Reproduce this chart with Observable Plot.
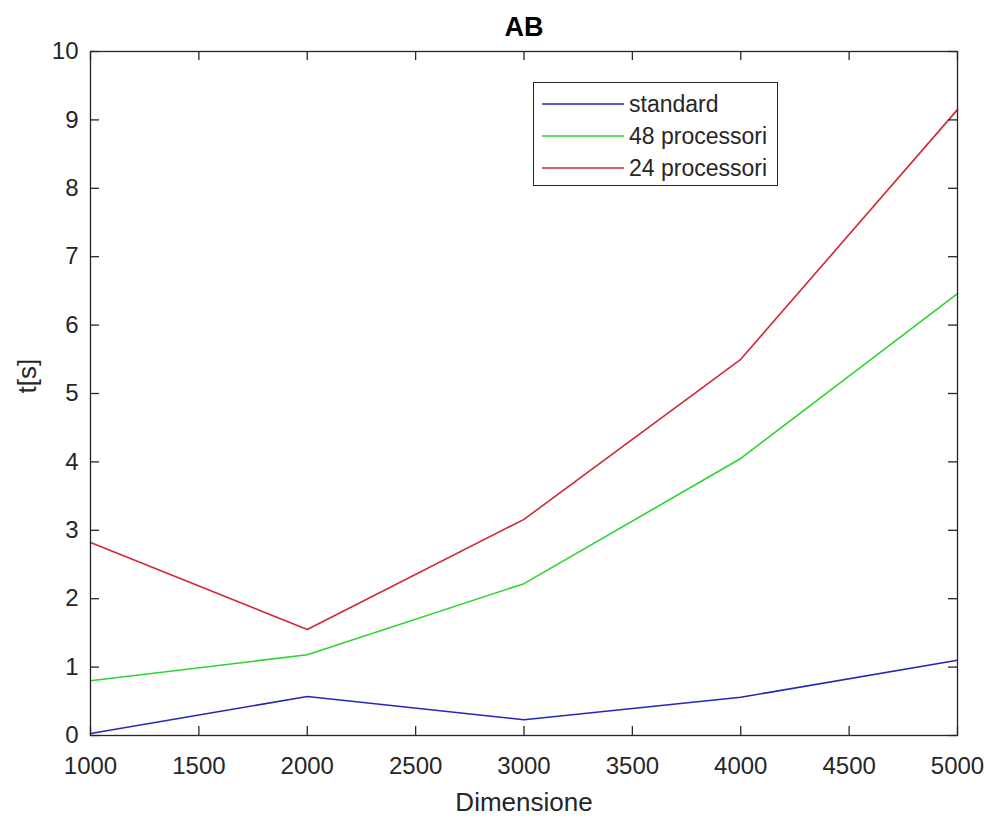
<!DOCTYPE html>
<html>
<head>
<meta charset="utf-8">
<script src="https://cdn.jsdelivr.net/npm/d3@7"></script>
<script src="https://cdn.jsdelivr.net/npm/@observablehq/plot@0.6"></script>
<style>
  html, body { margin: 0; padding: 0; background: #fff; }
  #wrap { position: relative; width: 993px; height: 821px; font-family: "Liberation Sans", Arial, sans-serif; }
  #legend { position: absolute; left: 533px; top: 82px; width: 243px; height: 102px; border: 1px solid #262626; background: #fff; }
  .row { position: absolute; left: 8px; height: 30px; display: flex; align-items: center; font-size: 23px; color: #262626; }
  .row svg { margin-right: 5px; }
</style>
</head>
<body>
<div id="wrap"></div>
<script>
// ---- data ----
const dims = [1000, 2000, 3000, 4000, 5000];
const standard = [0.03, 0.57, 0.23, 0.56, 1.10];
const proc48 = [0.80, 1.18, 2.22, 4.05, 6.46];
const proc24 = [2.82, 1.55, 3.16, 5.50, 9.15];
const seriesNames = ["standard", "48 processori", "24 processori"];
const seriesColors = ["#2626b8", "#2ed42e", "#d02836"];
const xTicks = [1000, 1500, 2000, 2500, 3000, 3500, 4000, 4500, 5000];
const yTicks = [0, 1, 2, 3, 4, 5, 6, 7, 8, 9, 10];
const titleText = "AB";
const xLabel = "Dimensione";
const yLabel = "t[s]";

const seriesValues = [standard, proc48, proc24];
const rows = [];
seriesValues.forEach((vals, i) => dims.forEach((d, j) => rows.push({series: seriesNames[i], x: d, y: vals[j]})));

const W = 993, H = 821, mL = 90, mR = 36, mT = 51, mB = 86;
const fw = W - mL - mR, fh = H - mT - mB, tl = 9;
const axisColor = "#262626";

const chart = Plot.plot({
  width: W, height: H,
  marginLeft: mL, marginRight: mR, marginTop: mT, marginBottom: mB,
  style: {fontFamily: "'Liberation Sans', Arial, sans-serif", background: "#fff", color: axisColor},
  x: {domain: [1000, 5000]},
  y: {domain: [0, 10]},
  color: {domain: seriesNames, range: seriesColors},
  marks: [
    Plot.line(rows, {x: "x", y: "y", z: "series", stroke: "series", strokeWidth: 1.6}),
    Plot.frame({stroke: axisColor, strokeWidth: 1.3}),
    // inward ticks
    Plot.tickX(xTicks, {x: d => d, insetTop: fh - tl, stroke: axisColor, strokeWidth: 1.3}),
    Plot.tickX(xTicks, {x: d => d, insetBottom: fh - tl, stroke: axisColor, strokeWidth: 1.3}),
    Plot.tickY(yTicks, {y: d => d, insetRight: fw - tl, stroke: axisColor, strokeWidth: 1.3}),
    Plot.tickY(yTicks, {y: d => d, insetLeft: fw - tl, stroke: axisColor, strokeWidth: 1.3}),
    Plot.axisX(xTicks, {tickSize: 0, tickPadding: 21, fontSize: 24, tickFormat: "d", label: null, fill: axisColor}),
    Plot.axisY(yTicks, {tickSize: 0, tickPadding: 12, fontSize: 24, tickFormat: "d", label: null, fill: axisColor}),
    Plot.text([titleText], {frameAnchor: "top", dy: -16, lineAnchor: "bottom", fontSize: 27, fontWeight: "bold", fill: "#000"}),
    Plot.text([xLabel], {frameAnchor: "bottom", dy: 75, lineAnchor: "bottom", fontSize: 26, fill: axisColor}),
    Plot.text([yLabel], {frameAnchor: "left", dx: -63, rotate: -90, lineAnchor: "middle", fontSize: 26, fill: axisColor})
  ]
});

const wrap = document.getElementById("wrap");
wrap.appendChild(chart);

// legend
const legend = document.createElement("div");
legend.id = "legend";
const rowTops = [6, 38, 70];
seriesNames.forEach((name, i) => {
  const r = document.createElement("div");
  r.className = "row";
  r.style.top = rowTops[i] + "px";
  r.innerHTML = `<svg width="82" height="10"><line x1="0" x2="82" y1="5" y2="5" stroke="${seriesColors[i]}" stroke-width="1.6"/></svg><span>${name}</span>`;
  legend.appendChild(r);
});
wrap.appendChild(legend);
</script>
</body>
</html>
